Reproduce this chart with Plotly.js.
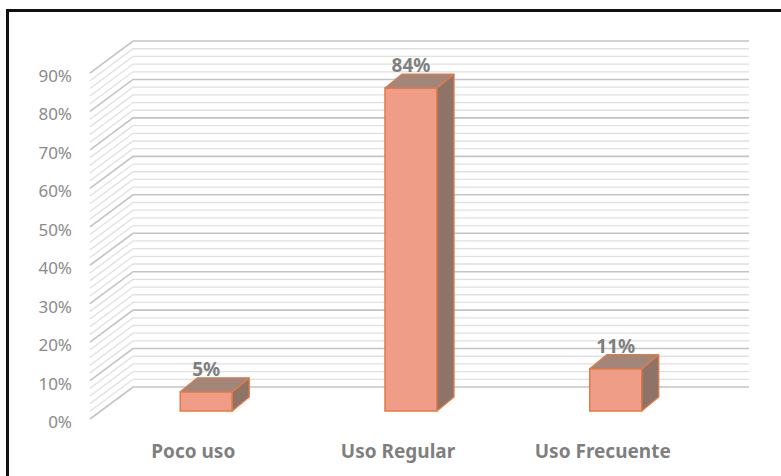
<!DOCTYPE html>
<html>
<head>
<meta charset="utf-8">
<script src="https://cdn.plot.ly/plotly-3.0.1.min.js"></script>
<style>
  html, body { margin: 0; padding: 0; background: #ffffff; }
  #wrap { position: relative; width: 781px; height: 476px; overflow: hidden; }
  #chart { position: absolute; left: 0; top: 0; width: 781px; height: 476px; }
  #frame { position: absolute; left: 6px; top: 9px; width: 800px; height: 500px;
           border-left: 3px solid #111; border-top: 3px solid #111; pointer-events: none; }
</style>
</head>
<body>
<div id="wrap">
  <div id="chart"></div>
  <div id="frame"></div>
</div>
<script>
// ---- data ----
const categories = ['Poco uso', 'Uso Regular', 'Uso Frecuente'];
const values = [5, 84, 11];
const valueLabels = ['5%', '84%', '11%'];
const yTickValues = [0, 10, 20, 30, 40, 50, 60, 70, 80, 90];
const yTickLabels = ['0%', '10%', '20%', '30%', '40%', '50%', '60%', '70%', '80%', '90%'];

// ---- pseudo-3D geometry (styling) ----
const PX_CAT = 204.75, PX_PCT = 3.844;
const barW = 52 / PX_CAT;
const depthX = 17 / PX_CAT, depthY = 14 / PX_PCT;
const wallFront = -8 / PX_PCT, wallBack = 24 / PX_PCT;
const xFront = 1 + (90 - 411) / PX_CAT;
const xBack = 1 + (133 - 411) / PX_CAT;
const xRight = 1 + (749 - 411) / PX_CAT;
const xRange = [1 + (80 - 411) / PX_CAT, 1 + (761 - 411) / PX_CAT];
const yRange = [(411 - 430) / PX_PCT, (411 - 35) / PX_PCT];
const catShift = 13 / PX_CAT;
const labShift = 11 / PX_PCT;

const idx = categories.map((c, i) => i);

// wall gridlines as shapes behind the bars
const shapes = [];
const gridStep = 2;
const gridMax = yTickValues[yTickValues.length - 1];
for (let v = 0; v <= gridMax + 1e-9; v += gridStep) {
  const major = yTickValues.indexOf(v) >= 0;
  shapes.push({
    type: 'path', xref: 'x', yref: 'y', layer: 'below',
    path: 'M ' + xFront + ',' + (v + wallFront) + ' L ' + xBack + ',' + (v + wallBack) +
          ' L ' + xRight + ',' + (v + wallBack),
    line: { color: major ? '#C3C3C3' : '#E0E0E0', width: major ? 1.6 : 1.3 }
  });
}

// faces
const topX = [], topY = [], sideX = [], sideY = [];
idx.forEach((i) => {
  const v = values[i], l = i - barW / 2, r = i + barW / 2;
  topX.push(l, r, r + depthX, l + depthX, l, null);
  topY.push(v, v, v + depthY, v + depthY, v, null);
  sideX.push(r, r + depthX, r + depthX, r, r, null);
  sideY.push(0, depthY, v + depthY, v, 0, null);
});

const edge = '#E27A46';
const traces = [
  {
    type: 'bar', x: idx, y: values, width: barW, base: 0,
    marker: { color: '#F09D87', line: { color: edge, width: 1.5 } },
    hoverinfo: 'skip', showlegend: false
  },
  {
    type: 'scatter', mode: 'lines', x: sideX, y: sideY, fill: 'toself',
    fillcolor: '#8E7468', line: { color: edge, width: 1.3 },
    hoverinfo: 'skip', showlegend: false
  },
  {
    type: 'scatter', mode: 'lines', x: topX, y: topY, fill: 'toself',
    fillcolor: '#A3867A', line: { color: edge, width: 1.3 },
    hoverinfo: 'skip', showlegend: false
  },
  {
    type: 'scatter', mode: 'text', x: idx,
    y: values.map(v => v + depthY + 1.8),
    text: valueLabels, textposition: 'middle center', cliponaxis: false,
    textfont: { family: 'Noto Sans', size: 19, color: '#7F7F7F', weight: 'bold' },
    hoverinfo: 'skip', showlegend: false
  },
  { type: 'scatter', mode: 'markers', x: idx, y: idx.map(() => null),
    xaxis: 'x2', yaxis: 'y', hoverinfo: 'skip', showlegend: false },
  { type: 'scatter', mode: 'markers', x: [null], y: [null],
    xaxis: 'x', yaxis: 'y2', hoverinfo: 'skip', showlegend: false }
];

const layout = {
  width: 781, height: 476,
  margin: { l: 80, r: 20, t: 35, b: 46 },
  paper_bgcolor: '#ffffff', plot_bgcolor: 'rgba(0,0,0,0)',
  showlegend: false,
  xaxis: { range: xRange, showgrid: false, zeroline: false, showticklabels: false,
           ticks: '', showline: false, fixedrange: true },
  yaxis: { range: yRange, showgrid: false, zeroline: false, showticklabels: false,
           ticks: '', showline: false, fixedrange: true },
  xaxis2: { overlaying: 'x', anchor: 'y', side: 'bottom', type: 'linear',
            range: [xRange[0] + catShift, xRange[1] + catShift],
            tickmode: 'array', tickvals: idx, ticktext: categories,
            showgrid: false, zeroline: false, ticks: '', showline: false,
            ticklabelstandoff: 8,
            tickfont: { family: 'Noto Sans', size: 19, color: '#7F7F7F', weight: 'bold' } },
  yaxis2: { overlaying: 'y', anchor: 'x', side: 'left',
            range: [yRange[0] + labShift, yRange[1] + labShift],
            tickmode: 'array', tickvals: yTickValues, ticktext: yTickLabels,
            showgrid: false, zeroline: false, ticks: '', showline: false,
            ticklabelstandoff: 7,
            tickfont: { family: 'Noto Sans', size: 17, color: '#8A8A8A' } },
  shapes: shapes
};

Plotly.newPlot('chart', traces, layout, { displayModeBar: false, staticPlot: true });
</script>
</body>
</html>
